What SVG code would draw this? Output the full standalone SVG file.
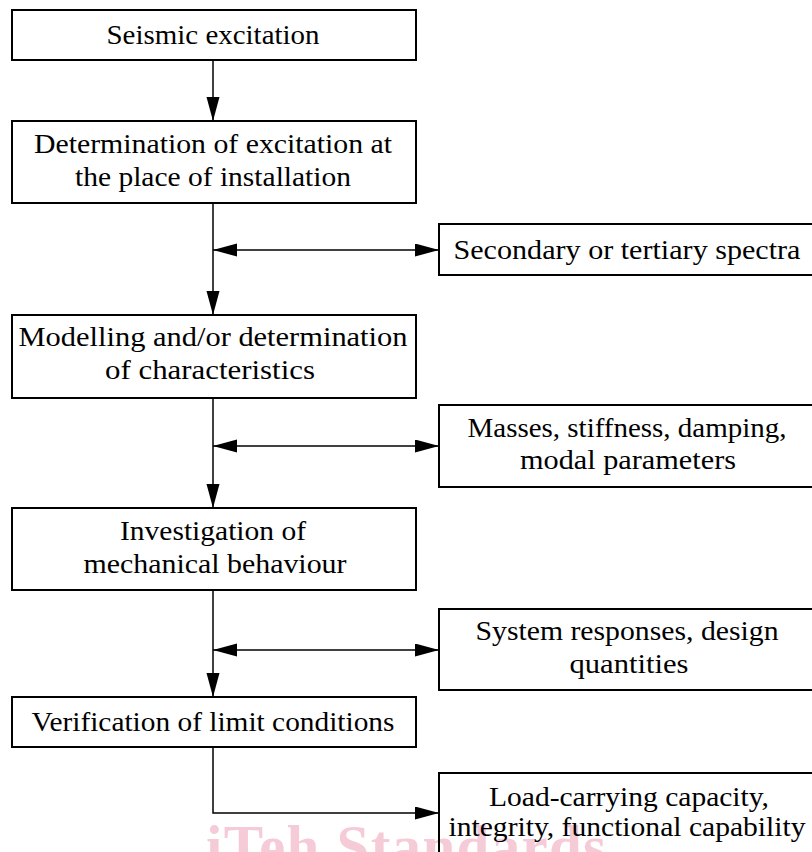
<svg xmlns="http://www.w3.org/2000/svg" width="812" height="852" viewBox="0 0 812 852">
<style>
.box{fill:#fff;stroke:#000;stroke-width:2}
.open{fill:none;stroke:#000;stroke-width:2}
.t{font-family:"Liberation Serif","Times New Roman",serif;font-size:28px;fill:#000;text-anchor:middle}
.c{fill:none;stroke:#000;stroke-width:1.5}
.wm{font-family:"Liberation Serif","Times New Roman",serif;font-weight:bold;font-size:59px;fill:#f6cbd8}
</style>
<defs>
<marker id="ah" markerUnits="userSpaceOnUse" markerWidth="25" markerHeight="14" refX="24" refY="6.5" orient="auto-start-reverse">
<path d="M0,0 L24,6.5 L0,13 z" fill="#000"/>
</marker>
</defs>
<rect width="812" height="852" fill="#fff"/>
<text class="wm" x="206" y="866" textLength="400">iTeh Standards</text>
<g id="connectors">
<line class="c" x1="213" y1="60" x2="213" y2="121" marker-end="url(#ah)"/>
<line class="c" x1="213" y1="203" x2="213" y2="315" marker-end="url(#ah)"/>
<line class="c" x1="213" y1="398" x2="213" y2="508" marker-end="url(#ah)"/>
<line class="c" x1="213" y1="590" x2="213" y2="697" marker-end="url(#ah)"/>
<line class="c" x1="213" y1="250" x2="439" y2="250" marker-start="url(#ah)" marker-end="url(#ah)"/>
<line class="c" x1="213" y1="446" x2="439" y2="446" marker-start="url(#ah)" marker-end="url(#ah)"/>
<line class="c" x1="213" y1="650" x2="439" y2="650" marker-start="url(#ah)" marker-end="url(#ah)"/>
<polyline class="c" points="213,747 213,813 439,813" marker-end="url(#ah)"/>
</g>
<g id="n1"><rect class="box" x="12" y="10" width="404" height="50"/>
<text class="t" x="213" y="44" textLength="213" lengthAdjust="spacingAndGlyphs">Seismic excitation</text></g>
<g id="n2"><rect class="box" x="12" y="121" width="404" height="82"/>
<text class="t" x="213" y="153" textLength="358" lengthAdjust="spacingAndGlyphs">Determination of excitation at</text>
<text class="t" x="213" y="186" textLength="276" lengthAdjust="spacingAndGlyphs">the place of installation</text></g>
<g id="n3"><rect class="box" x="12" y="315" width="404" height="83"/>
<text class="t" x="213" y="346" textLength="389" lengthAdjust="spacingAndGlyphs">Modelling and/or determination</text>
<text class="t" x="210" y="379" textLength="210" lengthAdjust="spacingAndGlyphs">of characteristics</text></g>
<g id="n4"><rect class="box" x="12" y="508" width="404" height="82"/>
<text class="t" x="213" y="540" textLength="186" lengthAdjust="spacingAndGlyphs">Investigation of</text>
<text class="t" x="215" y="573" textLength="263" lengthAdjust="spacingAndGlyphs">mechanical behaviour</text></g>
<g id="n5"><rect class="box" x="12" y="697" width="404" height="50"/>
<text class="t" x="213" y="731" textLength="363" lengthAdjust="spacingAndGlyphs">Verification of limit conditions</text></g>
<g id="r1"><rect class="box" x="439" y="224" width="385" height="51"/>
<text class="t" x="627" y="259" textLength="347" lengthAdjust="spacingAndGlyphs">Secondary or tertiary spectra</text></g>
<g id="r2"><rect class="box" x="439" y="405" width="385" height="82"/>
<text class="t" x="627" y="437" textLength="319" lengthAdjust="spacingAndGlyphs">Masses, stiffness, damping,</text>
<text class="t" x="628" y="469" textLength="216" lengthAdjust="spacingAndGlyphs">modal parameters</text></g>
<g id="r3"><rect class="box" x="439" y="609" width="385" height="81"/>
<text class="t" x="627" y="640" textLength="303" lengthAdjust="spacingAndGlyphs">System responses, design</text>
<text class="t" x="629" y="673" textLength="119" lengthAdjust="spacingAndGlyphs">quantities</text></g>
<g id="r4"><rect class="open" x="439" y="773" width="385" height="100"/>
<text class="t" x="629" y="806" textLength="280" lengthAdjust="spacingAndGlyphs">Load-carrying capacity,</text>
<text class="t" x="627" y="836" textLength="357" lengthAdjust="spacingAndGlyphs">integrity, functional capability</text></g>
</svg>
